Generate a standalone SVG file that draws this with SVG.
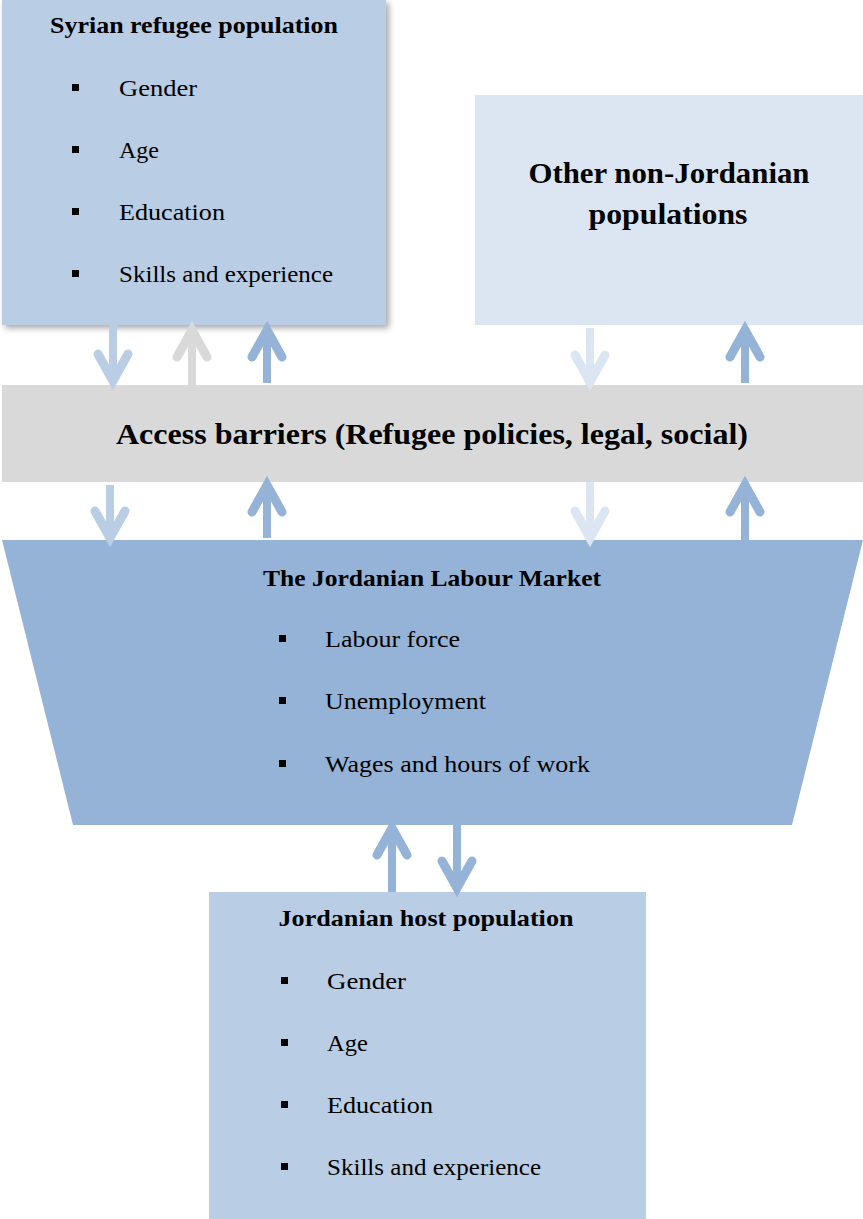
<svg xmlns="http://www.w3.org/2000/svg" width="863" height="1219" viewBox="0 0 863 1219">
<defs>
<filter id="sh" x="-5%" y="-5%" width="115%" height="115%">
<feDropShadow dx="3" dy="3" stdDeviation="3" flood-color="#000" flood-opacity="0.35"/>
</filter>
<style>
.t{font-family:"Liberation Serif","Times New Roman",serif;fill:#000}
.h{font-size:23px;font-weight:bold;text-anchor:middle}
.hb{font-size:29px;font-weight:bold;text-anchor:middle}
.i{font-size:23px}
.sh{fill:none;stroke-width:8}
.hd{fill:none;stroke-width:9;stroke-linecap:round;stroke-linejoin:miter}
.c1{stroke:#b9cde4}.c2{stroke:#d9d9d9}.c3{stroke:#95b3d7}.c4{stroke:#dce6f2}
</style>
</defs>
<rect width="863" height="1219" fill="#fff"/>
<g id="syrian">
<rect x="2" y="0" width="384" height="325" fill="#b9cde4" filter="url(#sh)"/>
<text class="t h" x="194" y="33" textLength="288" lengthAdjust="spacingAndGlyphs">Syrian refugee population</text>
<rect x="72" y="84" width="7" height="7"/><text class="t i" x="119" y="96" textLength="78" lengthAdjust="spacingAndGlyphs">Gender</text>
<rect x="72" y="146" width="7" height="7"/><text class="t i" x="119" y="158" textLength="40" lengthAdjust="spacingAndGlyphs">Age</text>
<rect x="72" y="208" width="7" height="7"/><text class="t i" x="119" y="220" textLength="106" lengthAdjust="spacingAndGlyphs">Education</text>
<rect x="72" y="270" width="7" height="7"/><text class="t i" x="119" y="282" textLength="214" lengthAdjust="spacingAndGlyphs">Skills and experience</text>
</g>
<g id="other">
<rect x="475" y="95" width="388" height="230" fill="#dce6f2"/>
<text class="t hb" x="669" y="183" textLength="281" lengthAdjust="spacingAndGlyphs">Other non-Jordanian</text>
<text class="t hb" x="668" y="224" textLength="159" lengthAdjust="spacingAndGlyphs">populations</text>
</g>
<g id="barriers">
<rect x="2" y="385" width="861" height="97" fill="#d9d9d9"/>
<text class="t hb" x="432" y="444" textLength="632" lengthAdjust="spacingAndGlyphs">Access barriers (Refugee policies, legal, social)</text>
</g>
<g id="market">
<polygon points="2,540 863,540 792,825 73,825" fill="#95b3d7"/>
<text class="t h" x="432" y="586" textLength="338" lengthAdjust="spacingAndGlyphs">The Jordanian Labour Market</text>
<rect x="279" y="635" width="7" height="7"/><text class="t i" x="325" y="647" textLength="135" lengthAdjust="spacingAndGlyphs">Labour force</text>
<rect x="279" y="697" width="7" height="7"/><text class="t i" x="325" y="709" textLength="161" lengthAdjust="spacingAndGlyphs">Unemployment</text>
<rect x="279" y="760" width="7" height="7"/><text class="t i" x="325" y="772" textLength="265" lengthAdjust="spacingAndGlyphs">Wages and hours of work</text>
</g>
<g id="host">
<rect x="209" y="892" width="437" height="327" fill="#b9cde4"/>
<text class="t h" x="426" y="926" textLength="295" lengthAdjust="spacingAndGlyphs">Jordanian host population</text>
<rect x="281" y="977" width="7" height="7"/><text class="t i" x="327" y="989" textLength="79" lengthAdjust="spacingAndGlyphs">Gender</text>
<rect x="281" y="1039" width="7" height="7"/><text class="t i" x="327" y="1051" textLength="41" lengthAdjust="spacingAndGlyphs">Age</text>
<rect x="281" y="1101" width="7" height="7"/><text class="t i" x="327" y="1113" textLength="106" lengthAdjust="spacingAndGlyphs">Education</text>
<rect x="281" y="1163" width="7" height="7"/><text class="t i" x="327" y="1175" textLength="214" lengthAdjust="spacingAndGlyphs">Skills and experience</text>
</g>
<g id="connectors">
<path class="sh c1" d="M113,325V378"/><path class="hd c1" d="M98,354L113,381L128,354"/>
<path class="sh c2" d="M192,385V332"/><path class="hd c2" d="M177,357L192,330L207,357"/>
<path class="sh c3" d="M267,383V332"/><path class="hd c3" d="M252,357L267,330L282,357"/>
<path class="sh c4" d="M590,328V380"/><path class="hd c4" d="M575,355L590,382L605,355"/>
<path class="sh c3" d="M745,383V332"/><path class="hd c3" d="M730,357L745,330L760,357"/>
<path class="sh c1" d="M110,485V535"/><path class="hd c1" d="M95,511L110,538L125,511"/>
<path class="sh c3" d="M267,538V487"/><path class="hd c3" d="M252,512L267,485L282,512"/>
<path class="sh c4" d="M590,482V535"/><path class="hd c4" d="M575,511L590,538L605,511"/>
<path class="sh c3" d="M745,540V487"/><path class="hd c3" d="M730,512L745,485L760,512"/>
<path class="sh c3" d="M392,892V830"/><path class="hd c3" d="M377,855L392,828L407,855"/>
<path class="sh c3" d="M457,825V885"/><path class="hd c3" d="M442,861L457,888L472,861"/>
</g>
</svg>
